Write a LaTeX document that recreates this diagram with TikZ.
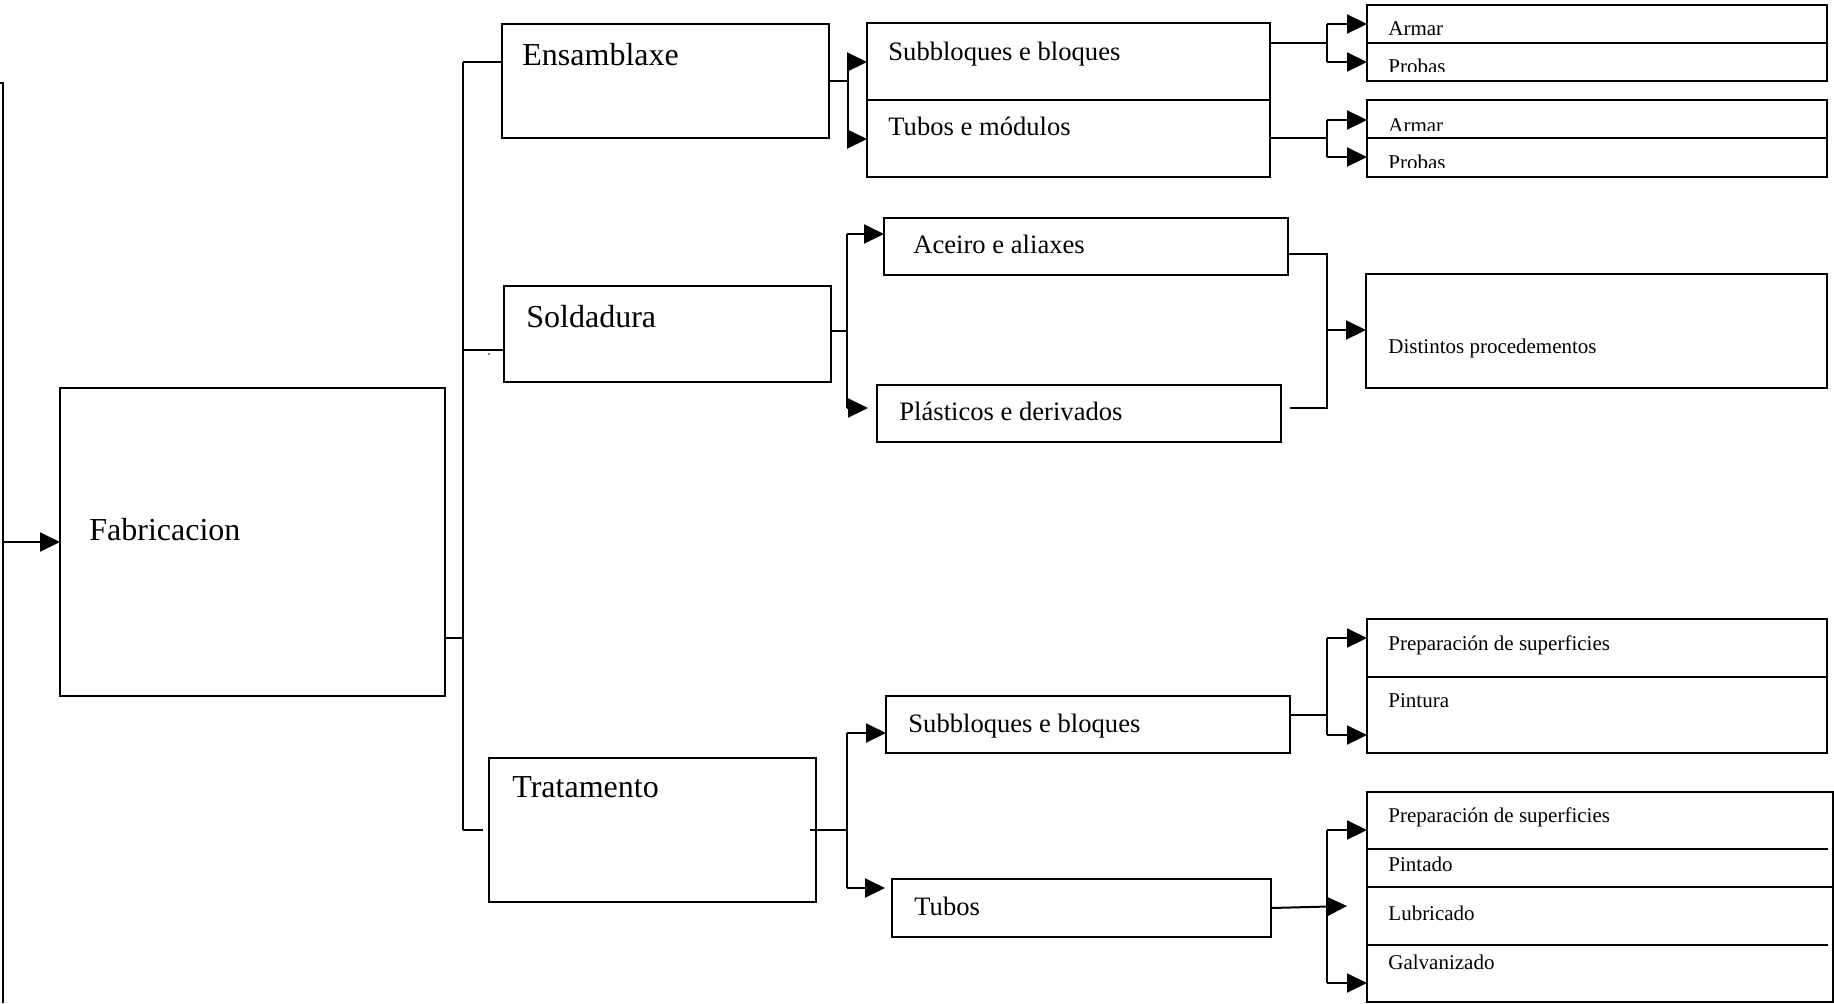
\documentclass[tikz,border=0pt]{standalone}
\usepackage{fontspec}
\setmainfont{Liberation Serif}
\usetikzlibrary{arrows.meta}

\tikzset{
  boxst/.style={draw, line width=1pt, inner sep=0pt, outer sep=0pt},
  wire/.style={line width=1pt},
  arr/.style={line width=1pt, -{Triangle[length=10pt,width=9.5pt]}},
  big/.style={font=\fontsize{16}{19}\selectfont, anchor=base west, inner sep=0pt},
  mid/.style={font=\fontsize{13.3}{16}\selectfont, anchor=base west, inner sep=0pt},
  small/.style={font=\fontsize{10.5}{12.6}\selectfont, anchor=base west, inner sep=0pt},
}

% box from its top-left to its bottom-right corner (picture units)
\newcommand\drawbox[5]{%
  \pgfmathsetmacro\mybw{(#4-#2)*0.5}%
  \pgfmathsetmacro\mybh{(#5-#3)*0.5}%
  \node[boxst, anchor=north west, minimum width=\mybw pt, minimum height=\mybh pt] (#1) at (#2,#3) {};}

\begin{document}
\begin{tikzpicture}[x=0.5pt,y=-0.5pt]
\useasboundingbox (0,0) rectangle (1834,1003);

% ---- Fabricacion and its feed ----
\drawbox{fab}{60}{388}{445}{696}
\node[big] (fabT) at (89,540) {Fabricacion};
\coordinate (feedTop) at (3,83);
\coordinate (feedEnd) at (0,83);
\coordinate (feedBot) at (3,1003);
\coordinate (feed) at (3,542);
\draw[wire] (feedEnd) -- (feedTop) -- (feedBot);
\draw[arr] (feed) -- (fab.west |- feed);

% ---- first level ----
\drawbox{ens}{502}{24}{829}{138}
\drawbox{sol}{504}{286}{831}{382}
\drawbox{tra}{489}{758}{816}{902}
\node[big] (ensT) at (522,65) {Ensamblaxe};
\node[big] (solT) at (526,327) {Soldadura};
\node[big] (traT) at (512,797) {Tratamento};

\coordinate (busTop) at (463,62);
\coordinate (busBot) at (463,830);
\coordinate (jF) at (463,638);
\coordinate (jS) at (463,350);
\coordinate (jT) at (483,830);
\draw[wire] (fab.east |- jF) -- (jF);
\draw[wire] (busTop) -- (busBot);
\draw[wire] (busTop) -- (ens.west |- busTop);
\draw[wire] (jS) -- (sol.west |- jS);
\draw[wire] (busBot) -- (jT);
\fill (489,354) circle (0.8);

% ---- Ensamblaxe branch ----
\drawbox{subE}{867}{23}{1270}{100}
\drawbox{tubE}{867}{100}{1270}{177}
\node[mid] (subEt) at (888,60) {Subbloques e bloques};
\node[mid] (tubEt) at (888,135) {Tubos e módulos};
\coordinate (eJ) at (848,81);
\coordinate (eJt) at (848,62);
\coordinate (eJb) at (848,139);
\draw[wire] (ens.east |- eJ) -- (eJ);
\draw[wire] (eJt) -- (eJb);
\draw[arr] (eJt) -- (subE.west |- eJt);
\draw[arr] (eJb) -- (tubE.west |- eJb);

\drawbox{armA}{1367}{5}{1827}{43}
\drawbox{proA}{1367}{43}{1827}{81}
\node[small] (armAt) at (1388,35) {Armar};
\begin{scope}
  \clip (1367,43) rectangle (1827,71);
  \node[small] (proAt) at (1388,73) {Probas};
\end{scope}
\coordinate (aJ) at (1327,43);
\coordinate (aJt) at (1327,24);
\coordinate (aJb) at (1327,62);
\draw[wire] (subE.east |- aJ) -- (aJ);
\draw[wire] (aJt) -- (aJb);
\draw[arr] (aJt) -- (armA.west |- aJt);
\draw[arr] (aJb) -- (proA.west |- aJb);

\drawbox{armB}{1367}{100}{1827}{138}
\drawbox{proB}{1367}{138}{1827}{177}
\begin{scope}
  \clip (1367,100) rectangle (1827,130.5);
  \node[small] (armBt) at (1388,132) {Armar};
\end{scope}
\begin{scope}
  \clip (1367,138) rectangle (1827,167);
  \node[small] (proBt) at (1388,169) {Probas};
\end{scope}
\coordinate (bJ) at (1327,138);
\coordinate (bJt) at (1327,120);
\coordinate (bJb) at (1327,157);
\draw[wire] (tubE.east |- bJ) -- (bJ);
\draw[wire] (bJt) -- (bJb);
\draw[arr] (bJt) -- (armB.west |- bJt);
\draw[arr] (bJb) -- (proB.west |- bJb);

% ---- Soldadura branch ----
\drawbox{ace}{884}{218}{1288}{275}
\drawbox{pla}{877}{385}{1281}{442}
\node[mid] (aceT) at (913,253) {Aceiro e aliaxes};
\node[mid] (plaT) at (899,420) {Plásticos e derivados};
\coordinate (sJ) at (847,331);
\coordinate (sJt) at (847,234);
\coordinate (sJb) at (847,408);
\coordinate (plaIn) at (868,408);
\draw[wire] (sol.east |- sJ) -- (sJ);
\draw[wire] (sJt) -- (sJb);
\draw[arr] (sJt) -- (ace.west |- sJt);
\draw[arr] (sJb) -- (plaIn);

\drawbox{dist}{1366}{274}{1827}{388}
\node[small] (distT) at (1388,353) {Distintos procedementos};
\coordinate (mT) at (1327,254);
\coordinate (mB) at (1327,408);
\coordinate (mM) at (1327,330);
\coordinate (plaOut) at (1290,408);
\draw[wire] (ace.east |- mT) -- (mT) -- (mB) -- (plaOut);
\draw[arr] (mM) -- (dist.west |- mM);

% ---- Tratamento branch ----
\drawbox{subT}{886}{696}{1290}{753}
\drawbox{tubT}{892}{879}{1271}{937}
\node[mid] (subTt) at (908,732) {Subbloques e bloques};
\node[mid] (tubTt) at (914,915) {Tubos};
\coordinate (traOut) at (810,830);
\coordinate (tJ) at (847,830);
\coordinate (tJt) at (847,733);
\coordinate (tJb) at (847,888);
\coordinate (tubIn) at (885,888);
\draw[wire] (traOut) -- (tJ);
\draw[wire] (tJt) -- (tJb);
\draw[arr] (tJt) -- (subT.west |- tJt);
\draw[arr] (tJb) -- (tubIn);

\drawbox{prepA}{1367}{619}{1827}{677}
\drawbox{pint}{1367}{677}{1827}{753}
\node[small] (prepAt) at (1388,650) {Preparación de superficies};
\node[small] (pintT) at (1388,707) {Pintura};
\coordinate (pJ) at (1327,715);
\coordinate (pJt) at (1327,638);
\coordinate (pJb) at (1327,735);
\draw[wire] (subT.east |- pJ) -- (pJ);
\draw[wire] (pJt) -- (pJb);
\draw[arr] (pJt) -- (prepA.west |- pJt);
\draw[arr] (pJb) -- (pint.west |- pJb);

\drawbox{finish}{1367}{792}{1833}{1002}
\draw[wire] (1367,849) -- (1828,849);
\draw[wire] (1367,887) -- (1833,887);
\draw[wire] (1367,945) -- (1828,945);
\node[small] (prepBt) at (1388,822) {Preparación de superficies};
\node[small] (pintadoT) at (1388,871) {Pintado};
\node[small] (lubT) at (1388,920) {Lubricado};
\node[small] (galvT) at (1388,969) {Galvanizado};
\coordinate (qJ) at (1347,906);
\coordinate (qJt) at (1327,830);
\coordinate (qJb) at (1327,983);
\draw[arr] (tubT.east) -- (qJ);
\draw[wire] (qJt) -- (qJb);
\draw[arr] (qJt) -- (finish.west |- qJt);
\draw[arr] (qJb) -- (finish.west |- qJb);
\end{tikzpicture}
\end{document}
